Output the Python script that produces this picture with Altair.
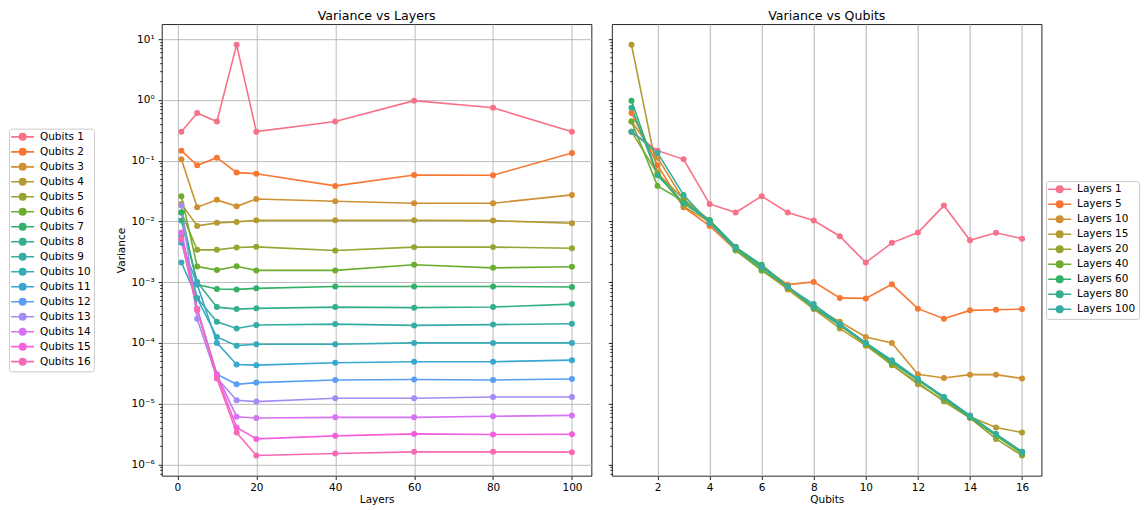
import math
import altair as alt
import pandas as pd

# ---------------- data ----------------
layers = [1, 5, 10, 15, 20, 40, 60, 80, 100]
qubits = list(range(1, 17))

# variance per qubit count, one value per layer count (layers list above)
var_q1 = [0.30, 0.61, 0.44, 8.05, 0.30, 0.44, 0.97, 0.74, 0.30]
var_q2 = [0.146, 0.084, 0.112, 0.0635, 0.061, 0.0384, 0.058, 0.0574, 0.134]
var_q3 = [0.105, 0.0171, 0.0226, 0.0177, 0.0234, 0.0214, 0.0199, 0.0199, 0.0273]
var_q4 = [0.0194, 0.00843, 0.00946, 0.0098, 0.01045, 0.0104, 0.01045, 0.0103, 0.0093]
var_q5 = [0.0140, 0.0034, 0.0034, 0.00372, 0.00381, 0.00332, 0.00377, 0.00377, 0.00362]
var_q6 = [0.026, 0.00181, 0.00158, 0.00183, 0.00156, 0.00156, 0.00193, 0.00172, 0.00179]
var_q7 = [0.0140, 0.00091, 0.00077, 0.00076, 0.00079, 0.00085, 0.00085, 0.00085, 0.00083]
var_q8 = [0.0103, 0.00101, 0.000388, 0.00036, 0.00037, 0.000388, 0.00038, 0.00039, 0.000435]
var_q9 = [0.0057, 0.00055, 0.000223, 0.000173, 0.000197, 0.000204, 0.000194, 0.0002, 0.000207]
var_q10 = [0.0021, 0.00054, 0.000125, 9.0e-5, 9.5e-5, 9.5e-5, 1.0e-4, 1.0e-4, 1.0e-4]
var_q11 = [0.00443, 0.00092, 1.0e-4, 4.4e-5, 4.3e-5, 4.7e-5, 4.9e-5, 4.9e-5, 5.2e-5]
var_q12 = [0.00656, 0.000366, 3.04e-5, 2.08e-5, 2.22e-5, 2.45e-5, 2.49e-5, 2.45e-5, 2.55e-5]
var_q13 = [0.0182, 0.00025, 2.65e-5, 1.14e-5, 1.08e-5, 1.23e-5, 1.23e-5, 1.29e-5, 1.29e-5]
var_q14 = [0.0049, 0.000343, 3.0e-5, 6.1e-6, 5.8e-6, 5.95e-6, 5.95e-6, 6.2e-6, 6.4e-6]
var_q15 = [0.0065, 0.000352, 3.0e-5, 4.05e-6, 2.63e-6, 2.95e-6, 3.18e-6, 3.1e-6, 3.13e-6]
var_q16 = [0.0052, 0.00036, 2.59e-5, 3.35e-6, 1.40e-6, 1.51e-6, 1.61e-6, 1.61e-6, 1.59e-6]

variance_rows = [var_q1, var_q2, var_q3, var_q4, var_q5, var_q6, var_q7, var_q8,
                 var_q9, var_q10, var_q11, var_q12, var_q13, var_q14, var_q15, var_q16]

qubit_labels = [f"Qubits {q}" for q in qubits]
layer_labels = [f"Layers {l}" for l in layers]

layer_ticks = [0, 20, 40, 60, 80, 100]
qubit_ticks = [2, 4, 6, 8, 10, 12, 14, 16]
y_domain = [6.49e-7, 17.6]

# ---------------- husl palette (seaborn style) ----------------
_M = [[3.2406, -1.5372, -0.4986], [-0.9689, 1.8758, 0.0415], [0.0557, -0.2040, 1.0570]]
_refU, _refV, _lab_e, _lab_k = 0.19784, 0.46834, 0.008856, 903.3


def _max_chroma(L, H):
    hrad = math.radians(H)
    sinH, cosH = math.sin(hrad), math.cos(hrad)
    sub1 = (L + 16) ** 3 / 1560896.0
    sub2 = sub1 if sub1 > 0.008856 else L / 903.3
    result = float("inf")
    for m1, m2, m3 in _M:
        top = (0.99915 * m1 + 1.05122 * m2 + 1.14460 * m3) * sub2
        rbottom = 0.86330 * m3 - 0.17266 * m2
        lbottom = 0.12949 * m3 - 0.38848 * m1
        bottom = (rbottom * sinH + lbottom * cosH) * sub2
        for t in (0.0, 1.0):
            C = L * (top - 1.05122 * t) / (bottom + 0.17266 * sinH * t)
            if 0.0 < C < result:
                result = C
    return result


def _f_inv(t):
    return t ** 3 if t ** 3 > _lab_e else (116.0 * t - 16.0) / _lab_k


def _from_linear(c):
    return 12.92 * c if c <= 0.0031308 else 1.055 * c ** (1 / 2.4) - 0.055


def husl_to_hex(H, S, L):
    C = _max_chroma(L, H) / 100.0 * S
    hr = math.radians(H)
    U, V = math.cos(hr) * C, math.sin(hr) * C
    Y = _f_inv((L + 16.0) / 116.0)
    vU = U / (13.0 * L) + _refU
    vV = V / (13.0 * L) + _refV
    X = 0.0 - (9.0 * Y * vU) / ((vU - 4.0) * vV - vU * vV)
    Z = (9.0 * Y - 15.0 * vV * Y - vV * X) / (3.0 * vV)
    rgb = [_from_linear(r[0] * X + r[1] * Y + r[2] * Z) for r in _M]
    rgb = [min(1.0, max(0.0, c)) for c in rgb]
    return "#" + "".join(f"{int(round(c * 255)):02x}" for c in rgb)


def husl_palette(n, h=0.01, s=0.9, l=0.65):
    out = []
    for i in range(n):
        hue = ((i / n) + h) % 1 * 359
        out.append(husl_to_hex(hue, s * 99, l * 99))
    return out


palette = husl_palette(16)

# ---------------- table ----------------
records = []
for q, row in zip(qubits, variance_rows):
    for L, v in zip(layers, row):
        records.append({"qubits": q, "layers": L, "variance": v,
                        "qlabel": f"Qubits {q}", "llabel": f"Layers {L}"})
df = pd.DataFrame(records)

# ---------------- axis helpers ----------------
majors = [float(f"1e{k}") for k in range(-6, 2)]
minors = []
for k in range(-7, 2):
    for m in range(2, 10):
        v = float(f"{m}e{k}")
        if y_domain[0] <= v <= y_domain[1]:
            minors.append(v)
y_ticks = sorted(majors + minors)
sup = {"-": "\u207b", "0": "\u2070", "1": "\u00b9", "2": "\u00b2", "3": "\u00b3",
       "4": "\u2074", "5": "\u2075", "6": "\u2076"}
label_expr = " : ".join(
    f"datum.value == {v!r} ? '10{''.join(sup[c] for c in str(k))}'"
    for v, k in zip(majors, range(-6, 2))) + " : ''"
is_major = "abs(log(datum.value)/LN10 - round(log(datum.value)/LN10)) < 1e-6"

FONT = "DejaVu Sans"
# legend handle: a line with a filled circle marker (unit = 4 px)
LEG_PATH = ("M-2.875,0L2.875,0M-0.8,0A0.8,0.8,0,1,1,0.8,0"
            "A0.8,0.8,0,1,1,-0.8,0Z")


def legend(x, y):
    return alt.Legend(orient="none", legendX=x, legendY=y, title=None,
                      symbolType=LEG_PATH, symbolSize=64, symbolStrokeWidth=1.6,
                      symbolOffset=5.4, symbolOpacity=1, labelFontSize=10.5, labelFont=FONT,
                      labelColor="black", padding=3, rowPadding=1.0, labelOffset=12.1,
                      strokeColor="#cccccc", fillColor="white", cornerRadius=2.5)


def yaxis(show_labels, grid):
    kw = dict(values=y_ticks, tickSize={"condition": {"test": is_major, "value": 3.7}, "value": 2.1},
              tickColor="black", tickWidth=0.85, labelOverlap=False, labelFlush=False)
    if show_labels:
        kw.update(labelExpr=label_expr, title="Variance", labelPadding=4, titlePadding=5)
    else:
        kw.update(labels=False, title=None)
    if grid:
        kw.update(grid=True, gridColor="#b0b0b0", gridWidth=0.85,
                  gridOpacity={"condition": {"test": is_major, "value": 1}, "value": 0})
    else:
        kw.update(grid=False)
    return alt.Axis(**kw)


yscale = alt.Scale(type="log", domain=y_domain, nice=False, zero=False)


def xaxis(values, title, gcolor, gwidth):
    return alt.Axis(values=values, format="d", title=title, grid=True,
                    gridColor=gcolor, gridWidth=gwidth, tickSize=3.7, tickWidth=0.85,
                    tickColor="black", labelPadding=3, titlePadding=1.5)


def title(text):
    return alt.TitleParams(text, fontSize=12.6, fontWeight="normal", font=FONT,
                           color="black", baseline="alphabetic", offset=-7.9)


# ---------------- left: variance vs layers ----------------
base_l = alt.Chart(df).encode(
    x=alt.X("layers:Q", scale=alt.Scale(domain=[-3.95, 104.95], nice=False, zero=False),
            axis=xaxis(layer_ticks, "Layers", "#b0b0b0", 0.85)),
    y=alt.Y("variance:Q", scale=yscale, axis=yaxis(True, True)),
    color=alt.Color("qlabel:N", scale=alt.Scale(domain=qubit_labels, range=palette),
                    legend=legend(-153, 104.5)),
)
left = alt.layer(
    base_l.mark_line(strokeWidth=1.6),
    base_l.mark_point(filled=True, size=36, opacity=1),
).properties(width=430, height=452, title=title("Variance vs Layers"))

# ---------------- right: variance vs qubits ----------------
base_r = alt.Chart(df).encode(
    x=alt.X("qubits:Q", scale=alt.Scale(domain=[0.25, 16.75], nice=False, zero=False),
            axis=xaxis(qubit_ticks, "Qubits", "#c8c8c8", 1.4)),
    y=alt.Y("variance:Q", scale=yscale, axis=yaxis(False, False)),
    color=alt.Color("llabel:N", scale=alt.Scale(domain=layer_labels, range=palette[:9]),
                    legend=legend(434.5, 157)),
)
right = alt.layer(
    base_r.mark_line(strokeWidth=1.6),
    base_r.mark_point(filled=True, size=36, opacity=1),
).properties(width=430, height=452, title=title("Variance vs Qubits"))

chart = alt.hconcat(left, right, spacing=14.5).resolve_scale(
    color="independent", x="independent", y="independent"
).properties(padding={"left": 0, "top": 0, "right": 0, "bottom": 0}).configure_view(
    stroke="black", strokeWidth=0.85
).configure_axis(
    labelFont=FONT, titleFont=FONT, labelFontSize=10.5, titleFontSize=10.5,
    titleFontWeight="normal", labelColor="black", titleColor="black", domain=False
)

chart.save("out.html", embed_options={"renderer": "svg", "actions": False})
